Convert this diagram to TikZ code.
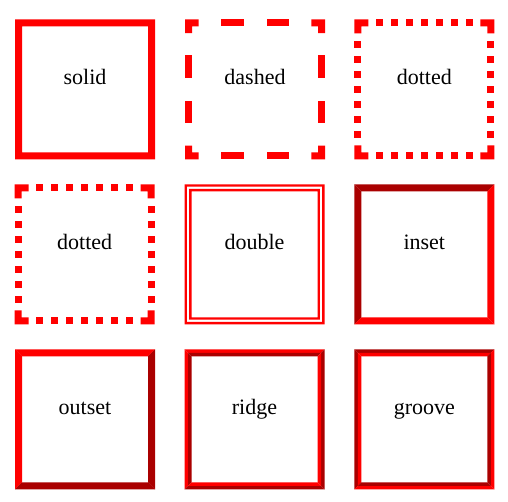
\documentclass[tikz,border=0pt]{standalone}
\usepackage{fontspec}
\setmainfont{Liberation Serif}
\newfontfamily\lblfont{Liberation Serif}
\definecolor{bred}{RGB}{255,0,0}
\definecolor{bdark}{RGB}{170,0,0}
% half ring between inset #1 and #2, top/left colour #3, bottom/right colour #4
\newcommand\bevring[4]{%
  \fill[#3] (#1,#1) -- ({140-#1},#1) -- ({140-#2},#2) -- (#2,#2) -- cycle;
  \fill[#3] (#1,#1) -- (#2,#2) -- (#2,{140-#2}) -- (#1,{140-#1}) -- cycle;
  \fill[#4] (#1,{140-#1}) -- ({140-#1},{140-#1}) -- ({140-#2},{140-#2}) -- (#2,{140-#2}) -- cycle;
  \fill[#4] ({140-#1},#1) -- ({140-#1},{140-#1}) -- ({140-#2},{140-#2}) -- ({140-#2},#2) -- cycle;
}
% L-shaped corner pieces with arm length #1
\newcommand\lcorners[1]{%
  \fill[bred] (0,0) -- (#1,0) -- (#1,7) -- (7,7) -- (7,#1) -- (0,#1) -- cycle;
  \fill[bred] (140,0) -- (140,#1) -- (133,#1) -- (133,7) -- ({140-#1},7) -- ({140-#1},0) -- cycle;
  \fill[bred] (0,140) -- (0,{140-#1}) -- (7,{140-#1}) -- (7,133) -- (#1,133) -- (#1,140) -- cycle;
  \fill[bred] (140,140) -- ({140-#1},140) -- ({140-#1},133) -- (133,133) -- (133,{140-#1}) -- (140,{140-#1}) -- cycle;
}
\newcommand\dotsides{%
  \foreach \k in {0,...,6}{
    \pgfmathsetmacro\s{21.5+15*\k}
    \fill[bred] (\s,0) rectangle ({\s+7},7);
    \fill[bred] (\s,133) rectangle ({\s+7},140);
    \fill[bred] (0,\s) rectangle (7,{\s+7});
    \fill[bred] (133,\s) rectangle (140,{\s+7});
  }%
}
\begin{document}
\begin{tikzpicture}[x=1pt,y=-1pt,
  lbl/.style={font=\lblfont\fontsize{22}{26}\selectfont, anchor=base, inner sep=0pt, text=black},
  boxframe/.style={minimum width=140pt, minimum height=140pt, inner sep=0pt, anchor=north west}]
\useasboundingbox[fill=white] (0,0) rectangle (508,501);

% ---------- solid ----------
\begin{scope}[shift={(15,19.3)}]
  \node[boxframe] (bsolid) at (0,0) {};
  \fill[bred, even odd rule] (0,0) rectangle (140,140) (7,7) rectangle (133,133);
  \node[lbl] (lsolid) at (70,65) {solid};
\end{scope}

% ---------- dashed ----------
\begin{scope}[shift={(185,19.3)}]
  \node[boxframe] (bdashed) at (0,0) {};
  \lcorners{13.7}
  \foreach \s in {36,81.5}{
    \fill[bred] (\s,0) rectangle ({\s+22.5},7);
    \fill[bred] (\s,133) rectangle ({\s+22.5},140);
    \fill[bred] (0,\s) rectangle (7,{\s+22.5});
    \fill[bred] (133,\s) rectangle (140,{\s+22.5});
  }
  \node[lbl] (ldashed) at (70,65) {dashed};
\end{scope}

% ---------- dotted (top) ----------
\begin{scope}[shift={(354.3,19.3)}]
  \node[boxframe] (bdotted) at (0,0) {};
  \lcorners{14}
  \dotsides
  \node[lbl] (ldotted) at (70,65) {dotted};
\end{scope}

% ---------- dotted (second row) ----------
\begin{scope}[shift={(14.7,184.3)}]
  \node[boxframe] (bdottedb) at (0,0) {};
  \lcorners{14}
  \dotsides
  \node[lbl] (ldottedb) at (70,65) {dotted};
\end{scope}

% ---------- double ----------
\begin{scope}[shift={(184.5,184.3)}]
  \node[boxframe] (bdouble) at (0,0) {};
  \fill[bred, even odd rule] (0,0) rectangle (140,140) (2.4,2.4) rectangle (137.6,137.6);
  \fill[bred, even odd rule] (4.6,4.6) rectangle (135.4,135.4) (7,7) rectangle (133,133);
  \node[lbl] (ldouble) at (70,65) {double};
\end{scope}

% ---------- inset ----------
\begin{scope}[shift={(354.3,184.3)}]
  \node[boxframe] (binset) at (0,0) {};
  \bevring{0}{7}{bdark}{bred}
  \node[lbl] (linset) at (70,65) {inset};
\end{scope}

% ---------- outset ----------
\begin{scope}[shift={(15,349.3)}]
  \node[boxframe] (boutset) at (0,0) {};
  \bevring{0}{7}{bred}{bdark}
  \node[lbl] (loutset) at (70,65) {outset};
\end{scope}

% ---------- ridge ----------
\begin{scope}[shift={(184.5,349.3)}]
  \node[boxframe] (bridge) at (0,0) {};
  \bevring{0}{3.5}{bred}{bdark}
  \bevring{3.5}{7}{bdark}{bred}
  \node[lbl] (lridge) at (70,65) {ridge};
\end{scope}

% ---------- groove ----------
\begin{scope}[shift={(354.3,349.3)}]
  \node[boxframe] (bgroove) at (0,0) {};
  \bevring{0}{3.5}{bdark}{bred}
  \bevring{3.5}{7}{bred}{bdark}
  \node[lbl] (lgroove) at (70,65) {groove};
\end{scope}
\end{tikzpicture}
\end{document}
